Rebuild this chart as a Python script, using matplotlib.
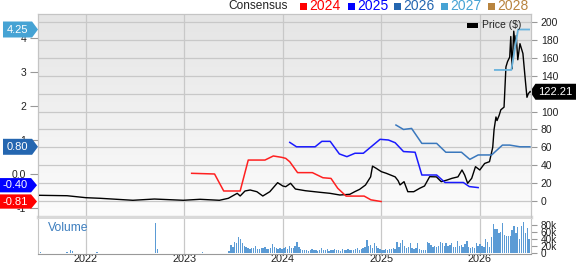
import matplotlib
matplotlib.use("Agg")
import matplotlib.pyplot as plt
import matplotlib.dates as mdates
import matplotlib.transforms as mtransforms
from matplotlib.patches import Polygon, Rectangle
from matplotlib.colors import LinearSegmentedColormap
import numpy as np
import pandas as pd

plt.rcParams['font.family'] = ['Liberation Sans', 'DejaVu Sans']

# price ($)
price_dates = ["2021-07-07", "2021-10-23", "2022-01-01", "2022-02-24", "2022-06-24", "2022-09-12",
               "2022-12-28", "2023-02-28", "2023-05-11", "2023-06-13", "2023-07-16", "2023-07-27",
               "2023-08-14", "2023-09-02", "2023-09-27", "2023-10-19", "2023-11-14", "2023-12-13",
               "2024-01-01", "2024-01-12", "2024-01-30", "2024-02-17", "2024-03-25", "2024-05-19",
               "2024-06-24", "2024-07-31", "2024-09-06", "2024-09-24", "2024-10-12", "2024-11-03",
               "2024-11-22", "2024-11-29", "2024-12-13", "2025-01-01", "2025-01-19", "2025-02-21",
               "2025-03-04", "2025-03-11", "2025-03-26", "2025-04-09", "2025-05-01", "2025-05-23",
               "2025-06-10", "2025-06-29", "2025-07-24", "2025-08-11", "2025-09-02", "2025-09-20",
               "2025-10-12", "2025-10-27", "2025-11-06", "2025-11-17", "2025-12-02", "2025-12-16",
               "2026-01-01", "2026-01-19", "2026-02-06", "2026-02-18", "2026-02-23", "2026-03-02",
               "2026-03-06", "2026-03-14", "2026-03-20", "2026-04-01", "2026-04-08", "2026-04-14",
               "2026-04-22", "2026-04-26", "2026-05-01", "2026-05-07", "2026-05-13", "2026-05-16",
               "2026-05-22", "2026-05-30", "2026-06-10", "2026-06-19", "2026-06-25", "2026-06-30",
               "2026-07-06"]
price_values = [6.4, 5.9, 3.7, 3.0, 0.8, 2.2,
                0.8, 1.9, 0.8, 3.0, 8.6, 5.6,
                11.2, 12.3, 10.4, 5.6, 10.4, 20.5,
                16.8, 16.0, 19.8, 13.4, 11.5, 9.7,
                8.6, 6.7, 7.5, 10.4, 13.0, 17.9,
                27.0, 39.0, 36.5, 32.8, 31.0, 27.0,
                22.7, 18.0, 21.6, 10.4, 10.4, 14.2,
                16.8, 27.2, 27.0, 21.6, 23.5, 25.4,
                27.0, 34.7, 29.0, 19.8, 25.4, 38.4,
                34.7, 42.0, 44.0, 60.0, 80.0, 94.0,
                90.0, 96.0, 102.0, 105.0, 150.0, 156.0,
                161.0, 184.0, 148.0, 190.0, 173.0, 185.0,
                158.0, 176.0, 165.0, 135.0, 116.0, 120.0,
                122.21]

# consensus EPS estimates, per fiscal year
c2024_dates = ["2023-01-28", "2023-04-23", "2023-05-27", "2023-07-27", "2023-08-26", "2023-10-27",
               "2023-11-27", "2023-12-28", "2024-01-12", "2024-01-27", "2024-02-25", "2024-04-20",
               "2024-05-29", "2024-06-28", "2024-07-23", "2024-08-23", "2024-10-29", "2024-11-23",
               "2024-12-31"]
c2024_values = [0.02, 0.0, -0.5, -0.5, 0.41, 0.41,
                0.53, 0.49, 0.46, 0.36, 0.04, 0.04,
                -0.11, -0.13, -0.42, -0.65, -0.65, -0.76,
                -0.81]

c2025_dates = ["2024-01-27", "2024-02-21", "2024-04-30", "2024-05-25", "2024-06-25", "2024-07-29",
               "2024-08-26", "2024-09-25", "2024-10-26", "2024-12-27", "2025-01-27", "2025-02-21",
               "2025-03-24", "2025-05-06", "2025-05-31", "2025-07-25", "2025-08-25", "2025-11-01",
               "2025-11-23", "2025-12-26"]
c2025_values = [0.93, 0.80, 0.80, 0.96, 0.96, 0.59,
                0.51, 0.61, 0.61, 1.02, 1.0, 0.92,
                0.66, 0.64, -0.03, -0.03, -0.25, -0.25,
                -0.37, -0.40]

c2026_dates = ["2025-02-24", "2025-03-24", "2025-04-23", "2025-05-31", "2025-07-25", "2025-08-28",
               "2025-10-25", "2025-11-25", "2025-12-26", "2026-02-14", "2026-03-26", "2026-04-22",
               "2026-05-30", "2026-07-06"]
c2026_values = [1.44, 1.31, 1.34, 0.90, 0.90, 0.64,
                0.64, 0.43, 0.56, 0.56, 0.85, 0.85,
                0.80, 0.80]

c2027_dates = ["2026-02-26", "2026-04-28", "2026-05-23", "2026-07-03"]
c2027_values = [3.06, 3.06, 4.25, 4.25]

# weekly volume (thousands)
vol_2021 = [2, 3, 2, 1, 2, 1, 2, 1, 1, 2, 1, 2, 1, 1, 2, 3, 1, 9, 6, 2, 1, 2, 1, 1, 2, 1]
vol_2022 = [1, 2, 1, 1, 2, 3, 2, 1, 1, 1, 2, 1, 1, 1, 2, 1, 1, 1, 1, 2, 1, 1, 1, 1, 2, 1,
            1, 1, 1, 1, 1, 2, 1, 1, 1, 2, 84, 12, 2, 1, 1, 1, 1, 1, 2, 1, 1, 1, 1, 1, 1, 1]
vol_2023 = [1, 1, 2, 1, 1, 1, 2, 1, 1, 3, 1, 1, 1, 2, 1, 1, 1, 1, 2, 1, 1, 1, 2,
            8, 24, 18, 33, 28, 45, 40, 30, 21, 18, 14, 12, 16, 14, 20, 13, 12, 15, 14, 18,
            13, 12, 16, 25, 18, 14, 12, 15, 13]
vol_2024 = [14, 18, 12, 22, 16, 14, 20, 33, 18, 12, 10, 9, 11, 8, 10, 12, 9, 10, 8, 11, 14, 9,
            10, 12, 8, 9, 11, 13, 9, 10, 8, 12, 10, 9, 13, 10, 11, 9, 12, 14, 10, 12, 16, 18,
            37, 20, 23, 15, 28, 22, 16, 12]
vol_2025 = [10, 9, 12, 11, 13, 12, 14, 13, 32, 18, 28, 37, 20, 15, 17, 28, 14, 13, 15, 28, 12,
            11, 10, 11, 32, 30, 23, 18, 20, 19, 21, 32, 28, 20, 28, 22, 23, 30, 17, 18, 34, 20,
            23, 19, 25, 34, 17, 15, 18, 14, 28, 20]
vol_2026 = [25, 20, 18, 39, 31, 18, 46, 83, 69, 68, 57, 60, 86, 51, 50, 49, 48, 65, 76, 56, 74,
            39, 76, 87, 56, 72, 39]

volume = np.array(vol_2021 + vol_2022 + vol_2023 + vol_2024 + vol_2025 + vol_2026) * 1000
vol_dates = pd.date_range("2021-07-09", periods=len(volume), freq="7D")

price_label = "122.21"
flags = [(4.25, "4.25", "#46a3d4", 0.47), (0.80, "0.80", "#2466b0", 0.47),
         (-0.33, "-0.40", "#0000ff", 0.42), (-0.81, "-0.81", "#ff0000", 0.42)]
legend_years = ["2024", "2025", "2026", "2027", "2028"]
legend_colors = ["#ff0000", "#0000ff", "#2466b0", "#46a3d4", "#b8843f"]

grid_c = "#c8c8c8"
xmin, xmax = pd.Timestamp("2021-07-07"), pd.Timestamp("2026-07-10")

fig = plt.figure(figsize=(5.76, 2.64), dpi=100)
W, H = 576, 264


def fx(px):
    return px / W


def fy(py):
    return 1 - py / H


ax = fig.add_axes([fx(38), fy(217), fx(531) - fx(38), fy(14) - fy(217)])
ax2 = ax.twinx()
vax = fig.add_axes([fx(38), fy(254), fx(531) - fx(38), fy(219) - fy(254)], sharex=ax)

# background gradient
cmap = LinearSegmentedColormap.from_list("bg", ["#e5e5e5", "#fcfcfc"])
ax.imshow(np.linspace(0, 1, 256).reshape(-1, 1), cmap=cmap, aspect="auto",
          extent=[0, 1, 0, 1], transform=ax.transAxes, zorder=0)

# price on ax (right ticks), consensus on ax2 (left ticks)
ax.plot(pd.to_datetime(price_dates), price_values, color="black", lw=1.0, zorder=3)
ax2.plot(pd.to_datetime(c2024_dates), c2024_values, color="#ff2020", lw=1.1)
ax2.plot(pd.to_datetime(c2025_dates), c2025_values, color="#1a1aff", lw=1.1)
ax2.plot(pd.to_datetime(c2026_dates), c2026_values, color="#3a78bd", lw=1.1)
ax2.plot(pd.to_datetime(c2027_dates), c2027_values, color="#6ab3dd", lw=1.3)

ax.set_xlim(xmin, xmax)
ax.set_ylim(-17.9, 209.2)
ax2.set_ylim(-1.265, 4.706)

ax.yaxis.tick_right()
ax.yaxis.set_label_position("right")
ax2.yaxis.tick_left()
ax.set_yticks(range(0, 201, 20))
ax2.set_yticks([-1, 0, 1, 2, 3, 4])
ax2.set_yticklabels(["-1", "0.0", "1", "2", "3", "4"])
ax.tick_params(axis="y", length=4, width=0.8, color="#999999", pad=3, labelsize=7.5, labelcolor="#222222")
ax2.tick_params(axis="y", length=6, width=0.8, color="#999999", pad=2.5, labelsize=7.5, labelcolor="#222222")
ax.xaxis.set_major_locator(mdates.YearLocator())
ax.tick_params(axis="x", length=0, labelbottom=False)
ax.grid(True, color=grid_c, lw=0.9)
ax.set_axisbelow(True)

for a in (ax, ax2):
    for s in a.spines.values():
        s.set_color("#c4c4c4")
        s.set_linewidth(0.8)
ax.spines["bottom"].set_color("#d9d9d9")
ax.spines["bottom"].set_linewidth(2.5)
ax2.spines["bottom"].set_visible(False)

# volume
vax.bar(vol_dates, volume, width=5, color="#5b9bd5", zorder=2)
vax.set_ylim(-1500, 96000)
vax.yaxis.tick_right()
vax.set_yticks([0, 20000, 40000, 60000, 80000])
vax.set_yticklabels(["0", "20k", "40k", "60k", "80k"])
vax.tick_params(axis="y", length=4, width=0.8, color="#999999", pad=3, labelsize=7.2, labelcolor="#222222")
vax.xaxis.set_major_locator(mdates.YearLocator())
vax.xaxis.set_major_formatter(mdates.DateFormatter("%Y"))
vax.tick_params(axis="x", length=0, pad=0.3, labelsize=7.8, labelcolor="#222222")
vax.grid(True, axis="x", color=grid_c, lw=0.9)
vax.set_axisbelow(True)
for s in vax.spines.values():
    s.set_color("#c4c4c4")
    s.set_linewidth(0.8)
vax.spines["top"].set_visible(False)
vax.spines["bottom"].set_color("#999999")
vax.text(0.021, 0.73, "Volume", transform=vax.transAxes, fontsize=8.7,
         color="#3d7ebf", va="center", ha="left")

# left EPS flags
tr2 = mtransforms.blended_transform_factory(ax2.transAxes, ax2.transData)
for i, (yv, txt, col, h) in enumerate(flags):
    if i < 2:
        x0, x1, tip = -0.071, -0.012, 0.0
    else:
        x0, x1, tip = -0.078, -0.014, -0.002
    poly = Polygon([(x0, yv - h / 2), (x1, yv - h / 2), (tip, yv), (x1, yv + h / 2), (x0, yv + h / 2)],
                   closed=True, transform=tr2, clip_on=False, fc=col, ec="none", zorder=10)
    ax2.add_patch(poly)
    ax2.text((x0 + x1) / 2, yv, txt, transform=tr2, color="white", ha="center", va="center",
             fontsize=8, zorder=11, clip_on=False)

# right price flag
tr1 = mtransforms.blended_transform_factory(ax.transAxes, ax.transData)
last = price_values[-1]
ph = 17.9
poly = Polygon([(0.998, last), (1.009, last - ph / 2), (1.12, last - ph / 2), (1.12, last + ph / 2),
                (1.009, last + ph / 2)], closed=True, transform=tr1, clip_on=False,
               fc="black", ec="none", zorder=10)
ax.add_patch(poly)
ax.text(1.0497, last, price_label, transform=tr1, color="white", ha="center", va="center",
        fontsize=8, zorder=11, clip_on=False)

# price legend inside the plot
fig.patches.append(Rectangle((fx(467), fy(28)), fx(11), 5 / H, transform=fig.transFigure,
                             fc="black", ec="none", zorder=12))
fig.text(fx(482), fy(25.5), "Price ($)", fontsize=7.5, color="#222222", va="center", ha="left", zorder=12)

# top legend
fig.text(fx(288), fy(6), "Consensus", fontsize=8.6, color="#222222", va="center", ha="right")
sq_x = [300, 348, 394, 441, 488]
for x, yr, col in zip(sq_x, legend_years, legend_colors):
    fig.patches.append(Rectangle((fx(x), fy(9.5)), fx(7), 7 / H, transform=fig.transFigure,
                                 fc=col, ec="none"))
    fig.text(fx(x + 9.5), fy(6), yr, fontsize=10, color=col, va="center", ha="left")

fig.savefig("out.png", dpi=100)
